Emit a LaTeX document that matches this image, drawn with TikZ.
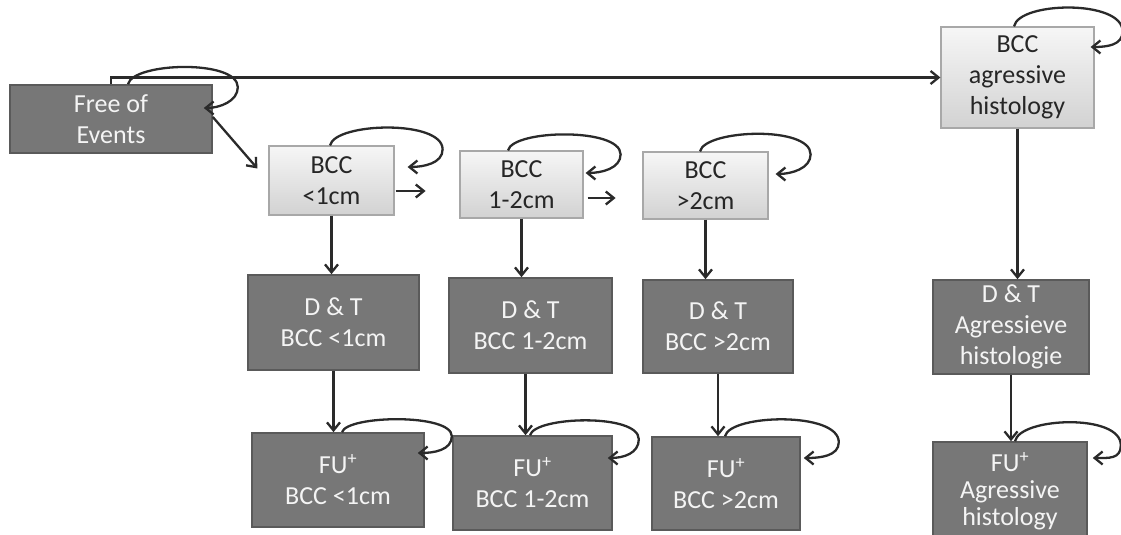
\documentclass[tikz,border=0pt]{standalone}
\usepackage{fontspec}
\setmainfont{Carlito}
\usetikzlibrary{arrows.meta,calc}
\definecolor{darkbox}{HTML}{777777}
\definecolor{darkedge}{HTML}{5A5A5A}
\definecolor{lighttop}{HTML}{F6F6F6}
\definecolor{lightbot}{HTML}{D2D2D2}
\definecolor{lightedge}{HTML}{A8A8A8}
\definecolor{wire}{HTML}{2A2A2A}
\definecolor{boxtext}{HTML}{F4F4F4}
\definecolor{inktext}{HTML}{262626}

% self-transition: #1 node, #2 start offset from north, (#3,#4) far point from north east,
% (#5,#6) arrow end from east, #7/#8 heights of the first curve's control points
\newcommand\selfloop[8]{%
  \draw[arr] ($(#1.north)+(#2,0)$) .. controls +(5,-#7) and +(0,-#8) ..
    ($(#1.north east)+(#3,#4)$) .. controls +(0,14) and +(16,0) ..
    ($(#1.east)+(#5,#6)$);}

\begin{document}
\begin{tikzpicture}[x=1pt,y=-1pt,
  every node/.style={font=\fontsize{26}{31}\selectfont, align=center, inner sep=0pt},
  darkstate/.style={draw=darkedge, line width=1.6pt, fill=darkbox, text=boxtext},
  lightstate/.style={draw=lightedge, line width=1.2pt, top color=lighttop, bottom color=lightbot, text=inktext},
  arr/.style={draw=wire, line width=2.3pt, -{Straight Barb[length=8pt,width=13pt]}},
]
\useasboundingbox (0,0) rectangle (1121,535);
\clip (0,0) rectangle (1121,535);

% states
\node[darkstate, minimum width=202pt, minimum height=68pt] (free) at (111,119) {Free of\\Events};
\node[lightstate, minimum width=125pt, minimum height=69pt] (b1) at (331.5,180.5) {BCC\\<1cm};
\node[lightstate, minimum width=123pt, minimum height=67pt] (b2) at (521.5,184.5) {BCC\\1-2cm};
\node[lightstate, minimum width=125pt, minimum height=67pt] (b3) at (705.5,185.5) {BCC\\>2cm};
\node[lightstate, minimum width=153pt, minimum height=101pt] (agr) at (1017.5,77.5) {BCC\\agressive\\histology};

\node[darkstate, minimum width=171pt, minimum height=95pt] (d1) at (333.5,322.5) {D \& T\\BCC <1cm};
\node[darkstate, minimum width=163pt, minimum height=95pt] (d2) at (530.5,325.5) {D \& T\\BCC 1-2cm};
\node[darkstate, minimum width=150pt, minimum height=93pt] (d3) at (718,326.5) {D \& T\\BCC >2cm};
\node[darkstate, minimum width=156pt, minimum height=94pt] (da) at (1011,327) {D \& T\\Agressieve\\histologie};

\node[darkstate, minimum width=172pt, minimum height=94pt] (f1) at (338,480) {FU\textsuperscript{+}\\BCC <1cm};
\node[darkstate, minimum width=159pt, minimum height=94pt] (f2) at (532.5,483) {FU\textsuperscript{+}\\BCC 1-2cm};
\node[darkstate, minimum width=148pt, minimum height=93pt] (f3) at (726,483.5) {FU\textsuperscript{+}\\BCC >2cm};
\node[darkstate, minimum width=154pt, minimum height=98pt, font=\fontsize{26}{27}\selectfont] (fa) at (1010,491) {FU\textsuperscript{+}\\Agressive\\histology};

% transitions
\draw[arr] (free.north) |- (agr.west);
\draw[arr] ($(free.east)+(0,-2)$) -- ($(b1.west)+(-11,-12)$);

\coordinate (g1) at ($(b1.east)+(31,10.5)$);
\coordinate (g2) at ($(b2.east)+(32,13.5)$);
\draw[arr] ($(b1.east)+(1,10.5)$) -- (g1);
\draw[arr] ($(b2.east)+(4,13.5)$) -- (g2);

\draw[arr] (b1.south) -- (b1.south |- d1.north);
\draw[arr] (b2.south) -- (b2.south |- d2.north);
\draw[arr] (b3.south) -- (b3.south |- d3.north);
\draw[arr] (agr.south) -- (agr.south |- da.north);

\draw[arr] (d1.south) -- (d1.south |- f1.north);
\draw[arr] ($(d2.south)+(-5,0)$) -- ($(d2.south |- f2.north)+(-5,0)$);
\draw[arr] (d3.south) -- (d3.south |- f3.north);
\draw[arr] (da.south) -- (da.south |- fa.north);

% staying in the same state
\selfloop{free}{17}{25}{3}{-9}{-11}{22}{28}
\selfloop{b1}{-1.5}{48}{4}{13}{-13.5}{23}{30}
\selfloop{b2}{-13.5}{37}{4}{2}{-11.5}{21}{27}
\selfloop{b3}{-5.5}{42}{3}{7}{-11.5}{22}{29}
\selfloop{agr}{-3.5}{28}{5}{-4}{-30.5}{25}{32}
\selfloop{f1}{4}{27}{4}{-7}{-27}{17}{23}
\selfloop{f2}{-2.5}{26}{4}{-5}{-25}{19}{26}
\selfloop{f3}{-1}{38}{6}{3}{-25.5}{22}{31}
\selfloop{fa}{5}{33}{4}{5}{-33}{24}{32}
\end{tikzpicture}
\end{document}
